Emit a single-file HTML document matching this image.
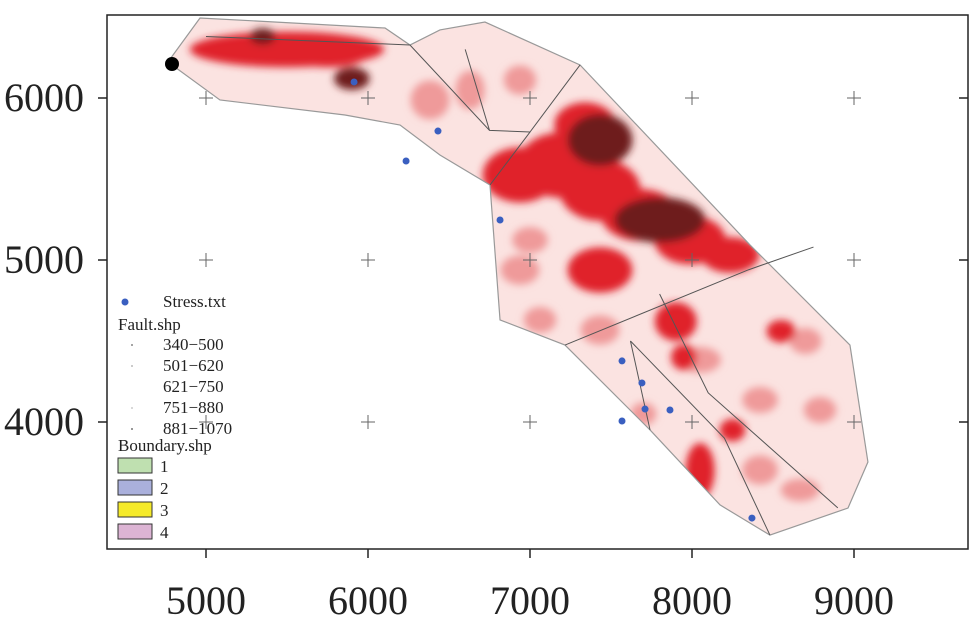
<!DOCTYPE html>
<html><head><meta charset="utf-8"><style>
body{margin:0;background:#fff}
svg{display:block}
text{font-family:"Liberation Serif",serif;fill:#222}
</style></head><body>
<svg id="c" width="970" height="623" viewBox="0 0 970 623">
<defs><filter id="bl" x="-50%" y="-50%" width="200%" height="200%"><feGaussianBlur stdDeviation="4"/></filter>
<clipPath id="clipB"><polygon id="clipPoly"/></clipPath></defs>
<g id="plot"></g>
<rect x="107" y="15" width="861" height="534" fill="none" stroke="#222" stroke-width="1.5"/>
<g id="axes"></g>
<g id="legend">
<circle cx="125" cy="302" r="3.5" fill="#3a5fc0"/>
<text x="163" y="307" font-size="17">Stress.txt</text>
<text x="118" y="330" font-size="17">Fault.shp</text>
<text x="163" y="350" font-size="17">340−500</text>
<text x="163" y="371" font-size="17">501−620</text>
<text x="163" y="392" font-size="17">621−750</text>
<text x="163" y="413" font-size="17">751−880</text>
<text x="163" y="434" font-size="17">881−1070</text>
<circle cx="132" cy="345" r="1" fill="#888"/><circle cx="132" cy="366" r="1" fill="#bbb"/><circle cx="132" cy="408" r="1" fill="#ccc"/><circle cx="132" cy="429" r="1" fill="#777"/>
<text x="118" y="451" font-size="17">Boundary.shp</text>
<rect x="118" y="458" width="34" height="15" fill="#bfe0b0" stroke="#333"/><text x="160" y="472" font-size="17">1</text>
<rect x="118" y="480" width="34" height="15" fill="#aab0dc" stroke="#333"/><text x="160" y="494" font-size="17">2</text>
<rect x="118" y="502" width="34" height="15" fill="#f5ea2a" stroke="#333"/><text x="160" y="516" font-size="17">3</text>
<rect x="118" y="524" width="34" height="15" fill="#dcb4d4" stroke="#333"/><text x="160" y="538" font-size="17">4</text>
</g>
</svg>
<script>
const xTicks=[5000,6000,7000,8000,9000];
const yTicks=[4000,5000,6000];
const boundaryX=[4765,4963,6105,6259,6444,6722,7309,8358,8975,9086,8963,8481,8173,7741,7216,6815,6753,6444,6198,5858,5086];
const boundaryY=[6222,6494,6432,6327,6420,6469,6204,5093,4475,3753,3469,3302,3488,3951,4475,4630,5463,5648,5833,5895,5988];
const faultLines=[[[5000,6380],[6259,6327]],[[6259,6327],[6750,5800],[7000,5790],[7309,6204]],[[7000,5790],[6753,5463]],[[6600,6300],[6750,5800]],[[7216,4475],[8350,4940],[8750,5080]],[[7741,3951],[7620,4500]],[[7800,4790],[8100,4180],[8900,3470]],[[7620,4500],[8200,3900],[8481,3302]]];
const blobX=[5500,5250,5750,5900,5350,6938,7185,7432,7679,7988,8235,7340,7432,7432,7802,8050,7900,8550,8250,7950,6938,7062,7432,7185,7556,8049,8420,8790,8420,8667,7000,6630,6938,6383,7700,8700];
const blobY=[6300,6330,6270,6120,6380,5525,5586,5432,5278,5123,5031,5833,4938,5741,5247,3700,4620,4560,3950,4400,4938,4630,4568,4012,3765,4383,4136,4074,3704,3580,5123,6049,6111,5988,4050,4500];
const blobRx=[600,200,250,110,80,230,260,250,240,220,180,190,200,200,280,90,130,90,80,80,120,100,120,120,110,130,110,100,110,120,110,90,100,120,80,100];
const blobRy=[110,60,80,70,50,170,200,190,160,150,110,140,140,160,140,170,120,70,70,80,90,80,90,100,90,80,80,80,90,70,80,120,90,120,70,80];
const blobLevel=[3,3,3,4,4,3,3,3,3,3,3,3,3,4,4,3,3,3,3,3,2,2,2,2,2,2,2,2,2,2,2,2,2,2,2,2];
const stressX=[5914,6235,6432,6815,7568,7691,7710,7864,7568,8370];
const stressY=[6099,5611,5796,5247,4377,4241,4080,4074,4006,3407];
const NS='http://www.w3.org/2000/svg';
const sx=v=>206+(v-5000)*0.162, sy=v=>260-(v-5000)*0.162;
const plot=document.getElementById('plot'), axes=document.getElementById('axes');
function mk(t,a,p){const e=document.createElementNS(NS,t);for(const k in a)e.setAttribute(k,a[k]);p.appendChild(e);return e;}
const pts=boundaryX.map((x,i)=>sx(x)+','+sy(boundaryY[i])).join(' ');
document.getElementById('clipPoly').setAttribute('points',pts);
const bg=mk('polygon',{points:pts,fill:'#fbe3e1',stroke:'none'},plot);


const colors={2:'#ef9a9a',3:'#e0242c',4:'#6e1e1e'};
const bg2=mk('g',{'clip-path':'url(#clipB)'},plot);
const bg3=mk('g',{filter:'url(#bl)'},bg2);
[2,3,4].forEach(l=>blobX.forEach((x,i)=>{if(blobLevel[i]!==l)return;
 const e=mk('ellipse',{cx:sx(x),cy:sy(blobY[i]),rx:blobRx[i]*0.162,ry:blobRy[i]*0.162,fill:colors[l]},bg3);
 
 }));
const ol=mk('polygon',{points:pts,fill:'none',stroke:'#999','stroke-width':1.2},plot);


faultLines.forEach(f=>{const l=mk('polyline',{points:f.map(p=>sx(p[0])+','+sy(p[1])).join(' '),fill:'none',stroke:'#555','stroke-width':1},plot);
 
 });
xTicks.forEach(x=>yTicks.forEach(y=>{const g=mk('path',{d:`M${sx(x)-7},${sy(y)}h14M${sx(x)},${sy(y)-7}v14`,stroke:'#666','stroke-width':1},plot);
 
 }));
const bd=mk('circle',{cx:172,cy:64,r:7,fill:'#000'},plot);


stressX.forEach((x,i)=>{const c=mk('circle',{cx:sx(x),cy:sy(stressY[i]),r:3.5,fill:'#3a5fc0'},plot);
 
 });
xTicks.forEach(x=>{mk('path',{d:`M${sx(x)},549v9`,stroke:'#222','stroke-width':1.5},axes);
 const t=mk('text',{x:sx(x),y:614,'font-size':40,'text-anchor':'middle'},axes);t.textContent=x;
 
 });
yTicks.forEach(y=>{mk('path',{d:`M107,${sy(y)}h-9M968,${sy(y)}h-9`,stroke:'#222','stroke-width':1.5},axes);
 const t=mk('text',{x:84,y:sy(y)+13,'font-size':40,'text-anchor':'end'},axes);t.textContent=y;
 
 });
</script>
</body></html>
